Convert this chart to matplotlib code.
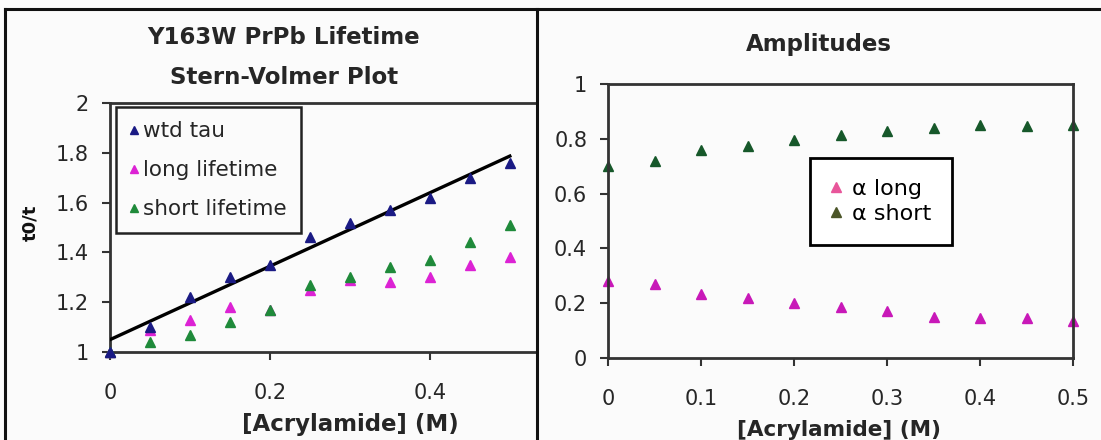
import numpy as np
import matplotlib.pyplot as plt
from matplotlib.lines import Line2D

plt.rcParams["font.family"] = ["DejaVu Sans"]

# concentracion de acrilamida (M)
acrylamide = [0.0, 0.05, 0.10, 0.15, 0.20, 0.25, 0.30, 0.35, 0.40, 0.45, 0.50]

# Stern-Volmer: t0/t
wtd_tau = [1.00, 1.10, 1.22, 1.30, 1.35, 1.46, 1.52, 1.57, 1.62, 1.70, 1.76]
long_lifetime = [1.00, 1.09, 1.13, 1.18, 1.17, 1.25, 1.29, 1.28, 1.30, 1.35, 1.38]
short_lifetime = [1.00, 1.04, 1.07, 1.12, 1.17, 1.27, 1.30, 1.34, 1.37, 1.44, 1.51]

# amplitudes
alpha_long = [0.28, 0.27, 0.235, 0.22, 0.20, 0.185, 0.17, 0.15, 0.145, 0.145, 0.135]
alpha_short = [0.70, 0.72, 0.76, 0.775, 0.795, 0.815, 0.83, 0.84, 0.85, 0.845, 0.85]

C_WTD = "#1A1A84"
C_LONG = "#DC22D4"
C_SHORT = "#1F8A3A"
C_ALONG = "#C818B8"
C_ASHORT = "#16582A"
TXT = "#262626"

W, H = 1101, 440
fig = plt.figure(figsize=(W / 100, H / 100), dpi=100)
fig.patch.set_facecolor("#FBFBFB")


def px(x, y):
    """pixeles (origen arriba-izquierda) -> fraccion de figura"""
    return x / W, 1 - y / H


# marco exterior y separador entre graficas
for xs, ys in [([5, 5], [9, H]), ([5, W], [9, 9]), ([537, 537], [9, H])]:
    fig.add_artist(Line2D([x / W for x in xs], [1 - y / H for y in ys],
                          color="#111111", lw=2.2, transform=fig.transFigure))


def estilo_ejes(ax):
    ax.set_facecolor("#FBFBFB")
    for s in ax.spines.values():
        s.set_color("#333333")
        s.set_linewidth(2)
    ax.tick_params(direction="out", length=6, width=1.5, colors="#333333",
                   labelsize=15, labelcolor=TXT)
    ax.tick_params(axis="x", pad=16)
    ax.tick_params(axis="y", pad=9)


kw = dict(ls="none", marker="^", ms=7.5, clip_on=False)

# ---- Stern-Volmer ----
ax1 = fig.add_axes([110 / W, (H - 352) / H, 427 / W, 249 / H])
estilo_ejes(ax1)
ax1.spines["right"].set_visible(False)
ax1.set_xlim(0, 0.534)
ax1.set_ylim(1, 2)
ax1.set_xticks([0, 0.2, 0.4])
ax1.set_xticklabels(["0", "0.2", "0.4"])
ax1.set_yticks([1, 1.2, 1.4, 1.6, 1.8, 2])
ax1.set_yticklabels(["1", "1.2", "1.4", "1.6", "1.8", "2"])

x = np.array(acrylamide)
pend, inter = np.polyfit(x, wtd_tau, 1)
ax1.plot([x[0], x[-1]], [inter, inter + pend * x[-1]], color="black", lw=2.4, zorder=4)

ax1.plot(x, short_lifetime, color=C_SHORT, label="short lifetime", zorder=3, **kw)
ax1.plot(x, long_lifetime, color=C_LONG, label="long lifetime", zorder=2, **kw)
ax1.plot(x, wtd_tau, color=C_WTD, label="wtd tau", zorder=5, **kw)

h, l = ax1.get_legend_handles_labels()
orden = [2, 1, 0]
leg1 = ax1.legend([h[i] for i in orden], [l[i] for i in orden],
                  loc="upper left", bbox_to_anchor=(0.014, 0.984), borderaxespad=0,
                  fontsize=15.5, markerscale=0.7, handlelength=0.35, handletextpad=0.25,
                  labelspacing=0.88, borderpad=0.66, fancybox=False,
                  edgecolor="#222222", framealpha=1, facecolor="#FBFBFB")
leg1.get_frame().set_linewidth(1.8)
for t in leg1.get_texts():
    t.set_color(TXT)

fig.text(*px(284, 37), "Y163W PrPb Lifetime", ha="center", va="center",
         fontsize=16.5, fontweight="bold", color=TXT)
fig.text(*px(284, 77), "Stern-Volmer Plot", ha="center", va="center",
         fontsize=16.5, fontweight="bold", color=TXT)
fig.text(*px(30, 223), "t0/t", rotation=90, ha="center", va="center",
         fontsize=13, fontweight="bold", color="#111111")
fig.text(*px(350, 424), "[Acrylamide] (M)", ha="center", va="center",
         fontsize=16.5, fontweight="bold", color=TXT)

# ---- Amplitudes ----
ax2 = fig.add_axes([608 / W, (H - 358) / H, 465 / W, 274 / H])
estilo_ejes(ax2)
ax2.set_xlim(0, 0.5)
ax2.set_ylim(0, 1)
ax2.set_xticks([0, 0.1, 0.2, 0.3, 0.4, 0.5])
ax2.set_xticklabels(["0", "0.1", "0.2", "0.3", "0.4", "0.5"])
ax2.set_yticks([0, 0.2, 0.4, 0.6, 0.8, 1])
ax2.set_yticklabels(["0", "0.2", "0.4", "0.6", "0.8", "1"])

ax2.plot(x, alpha_long, color=C_ALONG, **kw)
ax2.plot(x, alpha_short, color=C_ASHORT, **kw)

handles = [Line2D([], [], ls="none", marker="^", ms=7, color="#E8559A"),
           Line2D([], [], ls="none", marker="^", ms=7, color="#4B5528")]
leg2 = ax2.legend(handles, ["\u03b1 long", "\u03b1 short"], loc="upper left",
                  bbox_to_anchor=(0.434, 0.73), borderaxespad=0, fontsize=16,
                  handlelength=0.5, handletextpad=0.45, labelspacing=0.2,
                  borderpad=0.95, fancybox=False, edgecolor="black",
                  framealpha=1, facecolor="white")
leg2.get_frame().set_linewidth(2)

fig.text(*px(819, 45), "Amplitudes", ha="center", va="center",
         fontsize=16.5, fontweight="bold", color=TXT)
fig.text(*px(839, 430), "[Acrylamide] (M)", ha="center", va="center",
         fontsize=15.5, fontweight="bold", color=TXT)

fig.savefig("out.png", dpi=100, facecolor=fig.get_facecolor())
